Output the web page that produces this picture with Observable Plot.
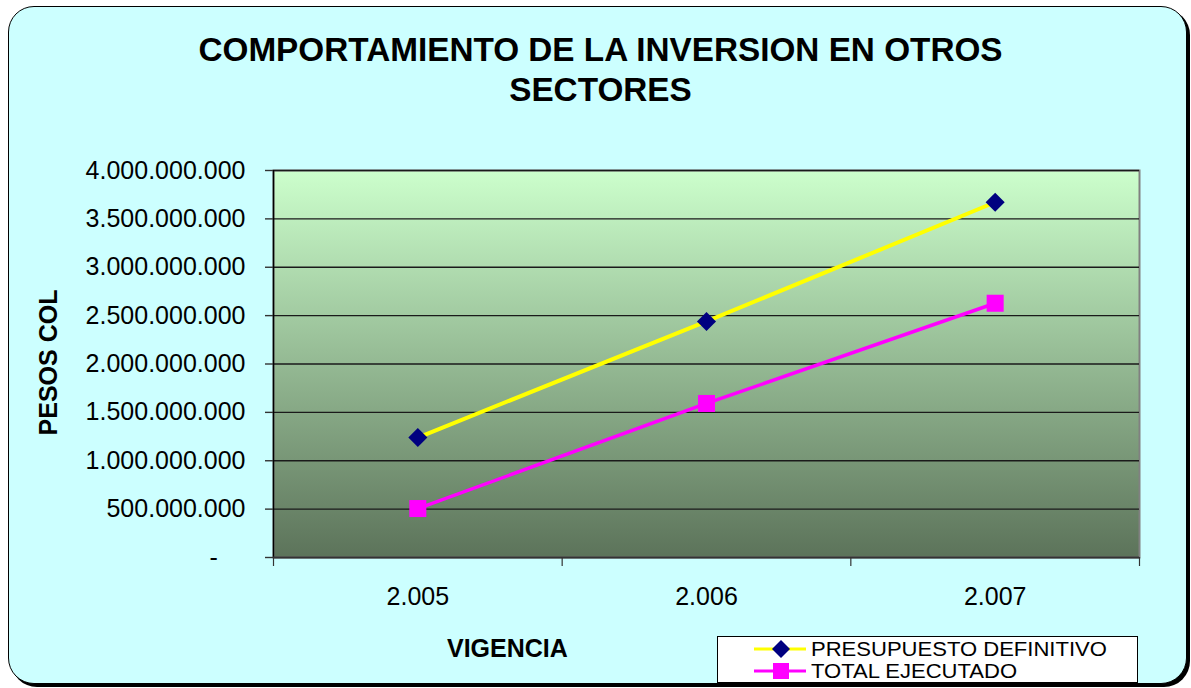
<!DOCTYPE html>
<html>
<head>
<meta charset="utf-8">
<script src="https://cdn.jsdelivr.net/npm/d3@7"></script>
<script src="https://cdn.jsdelivr.net/npm/@observablehq/plot@0.6"></script>
<style>
  html, body { margin: 0; padding: 0; background: #ffffff; }
  #wrap { position: relative; width: 1191px; height: 688px; overflow: hidden; font-family: "Liberation Sans", Arial, sans-serif; }
  #bgbox { position: absolute; left: 8px; top: 6px; width: 1177px; height: 676px; background: #CCFFFF; border: 1.5px solid #000; border-radius: 26px; box-shadow: 3px 3px 0 #000; }
  #chart { position: absolute; left: 0; top: 0; }
  .title { position: absolute; left: 0; width: 1201px; text-align: center; font-weight: bold; font-size: 33.3px; color: #000; line-height: 40px; }
  .xlabel { position: absolute; font-weight: bold; font-size: 25px; color: #000; }
  .ylabel { position: absolute; font-weight: bold; font-size: 25px; color: #000; transform: rotate(-90deg); transform-origin: center center; white-space: nowrap; }
  #legend { position: absolute; left: 717px; top: 636px; width: 421px; height: 47px; background: #fff; border: 1px solid #000; box-sizing: border-box; }
  .lrow { position: absolute; left: 0; height: 22px; white-space: nowrap; }
  .lrow svg { position: absolute; left: 36px; top: 0; }
  .lrow span { position: absolute; left: 93px; top: 0; display: inline-block; height: 22px; line-height: 22px; font-size: 19.5px; transform: scaleX(1.13); transform-origin: left center; }
</style>
</head>
<body>
<div id="wrap">
  <div id="bgbox"></div>
  <div id="chart"></div>
  <div class="title" style="top:30px;">COMPORTAMIENTO DE LA INVERSION EN OTROS<br>SECTORES</div>
  <div class="ylabel" id="ylab">PESOS COL</div>
  <div class="xlabel" style="left:447px; top:634px;">VIGENCIA</div>
  <div id="legend"></div>
</div>
<script>
// ---- data ----
const years = [2005, 2006, 2007];
const yearLabels = ["2.005", "2.006", "2.007"];
const presupuesto = [1240000000, 2440000000, 3672000000];
const ejecutado = [506000000, 1592000000, 2628000000];
const yTicks = [0, 500000000, 1000000000, 1500000000, 2000000000, 2500000000, 3000000000, 3500000000, 4000000000];
const seriesNames = ["PRESUPUESTO DEFINITIVO", "TOTAL EJECUTADO"];
const seriesColors = ["#FFFF00", "#FF00FF"];
const markerColors = ["#000080", "#FF00FF"];

const rowsP = years.map((y, i) => ({year: y, value: presupuesto[i]}));
const rowsE = years.map((y, i) => ({year: y, value: ejecutado[i]}));
const bounds = years.map(y => y - 0.5).concat([years[years.length - 1] + 0.5]);

const fmtY = d => d === 0 ? "-\u00a0\u00a0\u00a0\u00a0" : d3.format(",")(d).replace(/,/g, ".");
const fmtX = d => yearLabels[years.indexOf(d)];

function gradientDefs() {
  const ns = "http://www.w3.org/2000/svg";
  const defs = document.createElementNS(ns, "defs");
  const lg = document.createElementNS(ns, "linearGradient");
  lg.setAttribute("id", "plotbg");
  lg.setAttribute("x1", "0"); lg.setAttribute("y1", "0");
  lg.setAttribute("x2", "0"); lg.setAttribute("y2", "1");
  [["0%", "#CCFFCC"], ["100%", "#5C735A"]].forEach(([o, c]) => {
    const s = document.createElementNS(ns, "stop");
    s.setAttribute("offset", o); s.setAttribute("stop-color", c);
    lg.appendChild(s);
  });
  defs.appendChild(lg);
  return defs;
}

const plot = Plot.plot({
  width: 1191,
  height: 688,
  marginLeft: 273,
  marginRight: 52,
  marginTop: 170,
  marginBottom: 131,
  style: {background: "transparent", fontFamily: "Liberation Sans, Arial, sans-serif", color: "#000", overflow: "visible"},
  x: {type: "linear", domain: [bounds[0], bounds[bounds.length - 1]]},
  y: {domain: [0, 4000000000]},
  marks: [
    gradientDefs,
    Plot.frame({fill: "url(#plotbg)", stroke: "#808080", strokeWidth: 2}),
    Plot.gridY(yTicks.slice(1), {stroke: "#1a1a1a", strokeOpacity: 1, strokeWidth: 1.4}),
    Plot.ruleX([bounds[0]], {stroke: "#000", strokeWidth: 1.5}),
    Plot.ruleY([0], {stroke: "#333", strokeWidth: 2}),
    Plot.axisY({ticks: yTicks, tickFormat: fmtY, tickSize: 8, tickPadding: 20, fontSize: 25, label: null, stroke: "#333", strokeWidth: 1.4}),
    Plot.axisX({ticks: years, tickFormat: fmtX, tickSize: 0, tickPadding: 30, fontSize: 25, label: null}),
    Plot.axisX({ticks: bounds, tickFormat: () => "", tickSize: 9, label: null, stroke: "#333", strokeWidth: 1.2}),
    Plot.line(rowsP, {x: "year", y: "value", stroke: seriesColors[0], strokeWidth: 4}),
    Plot.line(rowsE, {x: "year", y: "value", stroke: seriesColors[1], strokeWidth: 3.5}),
    Plot.dot(rowsP, {x: "year", y: "value", symbol: "diamond2", r: 8.6, fill: markerColors[0], stroke: "none"}),
    Plot.dot(rowsE, {x: "year", y: "value", symbol: "square", r: 9.6, fill: markerColors[1], stroke: "none"})
  ]
});
document.getElementById("chart").appendChild(plot);

// y label rotated, centred at (49, 362)
const yl = document.getElementById("ylab");
const w = yl.offsetWidth, h = yl.offsetHeight;
yl.style.left = (49 - w / 2) + "px";
yl.style.top = (362 - h / 2) + "px";

// legend
const leg = document.getElementById("legend");
seriesNames.forEach((name, i) => {
  const row = document.createElement("div");
  row.className = "lrow";
  row.style.top = (i === 0 ? 1 : 23) + "px";
  const marker = i === 0
    ? `<path d="M27,2 L36,11 L27,20 L18,11 Z" fill="${markerColors[0]}"/>`
    : `<rect x="19" y="3" width="16" height="16" fill="${markerColors[1]}"/>`;
  row.innerHTML = `<svg width="54" height="22"><line x1="0" y1="11" x2="52" y2="11" stroke="${seriesColors[i]}" stroke-width="3"/>${marker}</svg><span>${name}</span>`;
  leg.appendChild(row);
});
</script>
</body>
</html>
